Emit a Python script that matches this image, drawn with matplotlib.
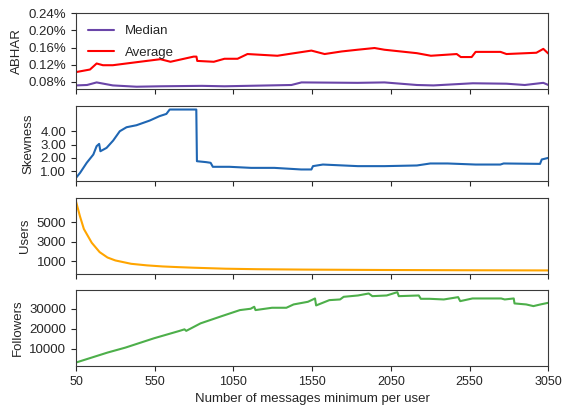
import matplotlib
matplotlib.use("Agg")
import matplotlib.pyplot as plt
import seaborn as sns
from matplotlib.ticker import FuncFormatter

# ABHAR (percent)
abhar_x = [50, 139, 181, 221, 284, 434, 586, 650, 797, 815, 820, 925, 993, 1076, 1139,
           1329, 1418, 1545, 1629, 1737, 1838, 1946, 2009, 2215, 2304, 2468, 2494, 2563,
           2588, 2746, 2784, 2974, 3018, 3050]
avg_vals = [0.103, 0.109, 0.123, 0.119, 0.119, 0.126, 0.133, 0.127, 0.139, 0.139, 0.129,
            0.127, 0.134, 0.134, 0.145, 0.141, 0.146, 0.153, 0.145, 0.151, 0.155, 0.159,
            0.155, 0.147, 0.141, 0.145, 0.138, 0.138, 0.150, 0.150, 0.145, 0.148, 0.157,
            0.146]
med_x = [50, 120, 181, 284, 434, 586, 850, 993, 1418, 1482, 1838, 2009, 2215, 2320,
         2570, 2784, 2900, 3018, 3050]
med_vals = [0.072, 0.073, 0.079, 0.072, 0.069, 0.070, 0.071, 0.070, 0.073, 0.079, 0.078,
            0.079, 0.073, 0.072, 0.077, 0.076, 0.073, 0.078, 0.073]

# Skewness
skew_x = [50, 76, 118, 160, 181, 197, 205, 244, 286, 328, 371, 434, 518, 580, 624, 645,
          708, 814, 818, 877, 905, 919, 1025, 1162, 1310, 1480, 1545, 1555, 1618, 1840,
          2009, 2215, 2300, 2410, 2588, 2745, 2766, 2997, 3008, 3050]
skew_vals = [0.50, 0.88, 1.63, 2.25, 2.88, 3.05, 2.50, 2.75, 3.30, 4.00, 4.30, 4.45, 4.80,
             5.13, 5.30, 5.63, 5.63, 5.63, 1.75, 1.68, 1.63, 1.33, 1.33, 1.25, 1.25, 1.13,
             1.13, 1.38, 1.50, 1.38, 1.38, 1.43, 1.58, 1.58, 1.50, 1.50, 1.58, 1.55, 1.88,
             2.00]

# Users
users_x = [50, 75, 100, 150, 200, 250, 300, 400, 500, 600, 700, 800, 1000, 1200, 1500,
           2000, 2500, 3050]
users_vals = [7100, 5600, 4300, 2900, 1950, 1400, 1100, 760, 600, 490, 420, 360, 260, 210,
              170, 130, 105, 85]

# Followers
foll_x = [50, 250, 364, 545, 705, 739, 750, 841, 977, 1091, 1159, 1182, 1190, 1295, 1386,
          1432, 1523, 1568, 1575, 1659, 1727, 1750, 1841, 1909, 1932, 2023, 2091, 2100,
          2227, 2240, 2295, 2386, 2477, 2490, 2568, 2750, 2773, 2830, 2835, 2909, 2955,
          3000, 3050]
foll_vals = [3000, 8000, 10500, 15170, 18830, 19670, 18900, 22670, 26330, 29330, 30000,
             31000, 29330, 30500, 30500, 32170, 33500, 35170, 31670, 34330, 34670, 36000,
             36670, 37670, 36330, 36670, 38330, 36330, 36670, 35000, 35000, 34670, 35830,
             33830, 35170, 35170, 34670, 35170, 32670, 32170, 31330, 32170, 33000]

xticks = [50, 550, 1050, 1550, 2050, 2550, 3050]

sns.set_style("ticks")
plt.rcParams['font.family'] = ['Liberation Sans', 'DejaVu Sans']
plt.rcParams['font.size'] = 9.5
plt.rcParams['xtick.labelsize'] = 9
plt.rcParams['text.color'] = '#262626'

fig, axes = plt.subplots(4, 1, figsize=(5.63, 4.12), dpi=100, sharex=True)
fig.subplots_adjust(left=0.135, right=0.974, top=0.968, bottom=0.112, hspace=0.22)

ax1, ax2, ax3, ax4 = axes
ax1.plot(med_x, med_vals, color='#6a45a8', lw=1.5, label='Median')
ax1.plot(abhar_x, avg_vals, color='#ff0000', lw=1.5, label='Average')
ax1.set_ylim(0.064, 0.24)
ax1.set_yticks([0.08, 0.12, 0.16, 0.20, 0.24])
ax1.yaxis.set_major_formatter(FuncFormatter(lambda v, p: f'{v:.2f}%'))
ax1.set_ylabel('ABHAR')
ax1.legend(loc='upper left', frameon=False, labelspacing=0.7, borderaxespad=0.5)

ax2.plot(skew_x, skew_vals, color='#1f66b3', lw=1.5)
ax2.set_ylim(0.25, 5.93)
ax2.set_yticks([1, 2, 3, 4])
ax2.yaxis.set_major_formatter(FuncFormatter(lambda v, p: f'{v:.2f}'))
ax2.set_ylabel('Skewness')

ax3.plot(users_x, users_vals, color='#ffa500', lw=1.5)
ax3.set_ylim(-230, 7470)
ax3.set_yticks([1000, 3000, 5000])
ax3.set_ylabel('Users')

ax4.plot(foll_x, foll_vals, color='#4daf4a', lw=1.5)
ax4.set_ylim(1330, 39330)
ax4.set_yticks([10000, 20000, 30000])
ax4.set_ylabel('Followers')
ax4.set_xlim(50, 3050)
ax4.set_xticks(xticks)
ax4.set_xlabel('Number of messages minimum per user')

for ax in axes:
    for s in ax.spines.values():
        s.set_color('#3a3a3a')

fig.savefig('out.png', dpi=100)
